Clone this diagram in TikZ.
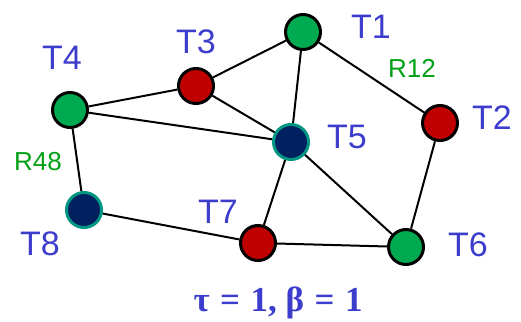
\documentclass[tikz,border=0pt]{standalone}
\usepackage{fontspec}
\setmainfont{Liberation Sans}
\newfontfamily\serifb{Liberation Serif}
\definecolor{lblue}{RGB}{60,60,205}
\definecolor{ngreen}{RGB}{0,170,80}
\definecolor{nred}{RGB}{192,0,0}
\definecolor{nnavy}{RGB}{0,32,96}
\definecolor{nteal}{RGB}{0,150,130}
\definecolor{tgreen}{RGB}{0,160,20}
\begin{document}
\begin{tikzpicture}[x=1pt,y=-1pt,
  vtx/.style={circle,minimum size=35pt,inner sep=0pt,line width=3pt},
  gv/.style={vtx,draw=black,fill=ngreen},
  rv/.style={vtx,draw=black,fill=nred},
  nv/.style={vtx,draw=nteal,fill=nnavy},
  lbl/.style={text=lblue,font=\fontsize{34}{36}\selectfont,inner sep=0pt},
  rl/.style={text=tgreen,font=\fontsize{26}{28}\selectfont,inner sep=0pt},
  edge/.style={line width=2pt,draw=black}]
\useasboundingbox (0,0) rectangle (521,321);
\node[gv] (T1) at (303,32) {};
\node[rv] (T2) at (440,123) {};
\node[rv] (T3) at (196,86) {};
\node[gv] (T4) at (70,110) {};
\node[nv] (T5) at (291,142) {};
\node[gv] (T6) at (406,247) {};
\node[rv] (T7) at (258,243) {};
\node[nv] (T8) at (84,210) {};
\draw[edge] (T3) -- (T1);
\draw[edge] (T1) -- (T5);
\draw[edge] (T1) -- (T2);
\draw[edge] (T4) -- (T3);
\draw[edge] (T4) -- (T5);
\draw[edge] (T3) -- (T5);
\draw[edge] (T4) -- (T8);
\draw[edge] (T8) -- (T7);
\draw[edge] (T7) -- (T5);
\draw[edge] (T5) -- (T6);
\draw[edge] (T7) -- (T6);
\draw[edge] (T2) -- (T6);
\node[lbl] (L1) at (371,27) {T1};
\node[lbl] (L2) at (492,118) {T2};
\node[lbl] (L3) at (196,42) {T3};
\node[lbl] (L4) at (62,58) {T4};
\node[lbl] (L5) at (347,137) {T5};
\node[lbl] (L6) at (468,245) {T6};
\node[lbl] (L7) at (218,212) {T7};
\node[lbl] (L8) at (40,244) {T8};
\node[rl] (R12) at (412,68) {R12};
\node[rl] (R48) at (38,162) {R48};
\node[text=lblue,font=\serifb\bfseries\fontsize{35}{37}\selectfont,inner sep=0pt,anchor=base] (tb) at (278,311) {τ\hspace{0.3em}=\hspace{0.3em}1, β\hspace{0.3em}=\hspace{0.3em}1};
\end{tikzpicture}
\end{document}
